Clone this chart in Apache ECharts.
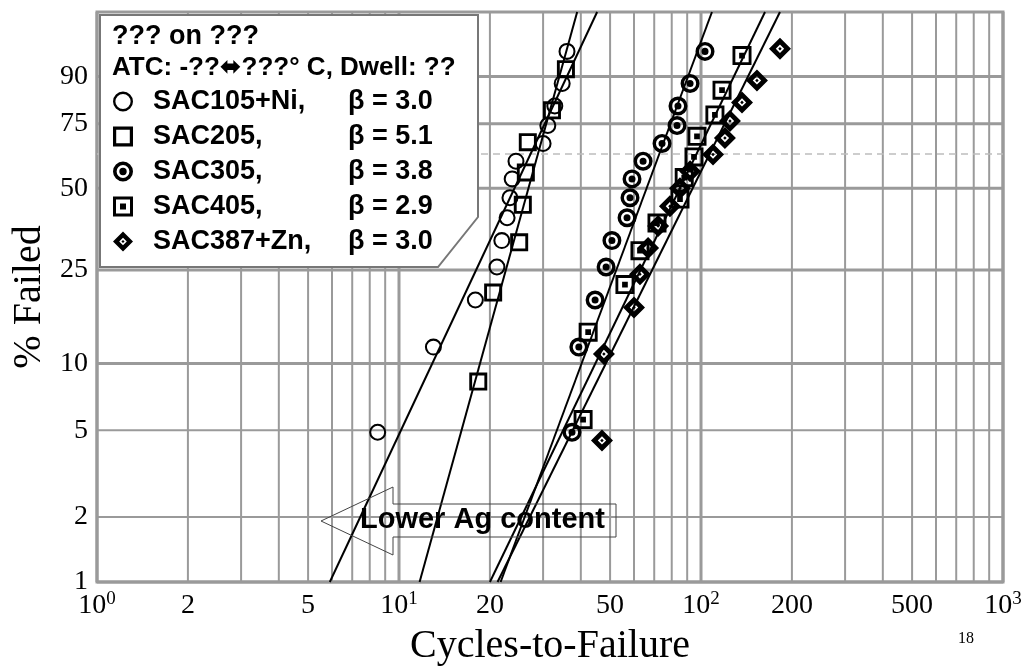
<!DOCTYPE html>
<html>
<head>
<meta charset="utf-8">
<script src="https://cdn.jsdelivr.net/npm/echarts@6/dist/echarts.min.js"></script>
<style>
  html, body { margin: 0; padding: 0; background: #fff; }
  #chart { width: 1026px; height: 671px; }
</style>
</head>
<body>
<div id="chart"></div>
<script>
// tick labels
const xTicks = [1, 2, 5, 10, 20, 50, 100, 200, 500, 1000]
const yTicks = [1, 2, 5, 10, 25, 50, 75, 90]

const names = ['SAC105+Ni', 'SAC205', 'SAC305', 'SAC405', 'SAC387+Zn']
const betas = ['3.0', '5.1', '3.8', '2.9', '3.0']

// cycles-to-failure / % failed
const sac105Cycles = [8.5, 13.0, 17.9, 21.1, 21.9, 22.8, 23.3, 23.7, 24.4, 30.0, 31.1, 32.8, 34.7, 36.0]
const sac105Pct = [4.9, 11.8, 18.8, 25.7, 32.6, 39.6, 46.5, 53.5, 60.4, 67.4, 74.3, 81.3, 88.2, 95.1]

const sac205Cycles = [18.3, 20.5, 25.0, 25.7, 26.3, 26.7, 32.1, 35.7]
const sac205Pct = [8.3, 20.2, 32.1, 44.0, 56.0, 67.9, 79.8, 91.7]

const sac305Cycles = [37.4, 39.4, 44.6, 48.5, 50.7, 56.9, 58.2, 59.1, 64.3, 74.3, 83.3, 83.9, 92.0, 103.1]
const sac305Pct = [4.9, 11.8, 18.8, 25.7, 32.6, 39.6, 46.5, 53.5, 60.4, 67.4, 74.3, 81.3, 88.2, 95.1]

const sac405Cycles = [40.7, 42.3, 56.0, 62.8, 71.5, 85.2, 88.0, 94.8, 97.0, 111.2, 117.4, 136.7]
const sac405Pct = [5.6, 13.7, 21.8, 29.8, 37.9, 46.0, 54.0, 62.1, 70.2, 78.2, 86.3, 94.4]

const sac387Cycles = [47.0, 47.7, 60.0, 62.8, 66.8, 72.1, 78.9, 85.2, 92.0, 109.6, 120.0, 124.7, 136.7, 153.2, 182.6]
const sac387Pct = [4.5, 11.0, 17.5, 24.0, 30.5, 37.0, 43.5, 50.0, 56.5, 63.0, 69.5, 76.0, 82.5, 89.0, 95.5]

// fitted Weibull lines: cycles where each line crosses 1% and 99%
const sac105Fit = [[5.9, 1], [45.3, 99]]
const sac205Fit = [[11.7, 1], [38.9, 99]]
const sac305Fit = [[21.7, 1], [108.7, 99]]
const sac405Fit = [[20.0, 1], [162.9, 99]]
const sac387Fit = [[21.2, 1], [182.6, 99]]

const lg = v => Math.log10(v)
const wb = p => Math.log(-Math.log(1 - p / 100))

const serif = '"Liberation Serif", "Times New Roman", serif'
const sans = '"Liberation Sans", Arial, "DejaVu Sans", sans-serif'

const pts = (c, p) => c.map((v, i) => [lg(v), wb(p[i])])
const fit = f => f.map(d => [lg(d[0]), wb(d[1])])

// marker shapes
const symRing = 'path://M0 10A10 10 0 1 1 20 10A10 10 0 1 1 0 10ZM2.4 10A7.6 7.6 0 1 0 17.6 10A7.6 7.6 0 1 0 2.4 10Z'
const symBox = 'path://M0 0H20V20H0ZM3.2 3.2V16.8H16.8V3.2Z'
const symGear = 'path://M0 10A10 10 0 1 1 20 10A10 10 0 1 1 0 10ZM3.6 10A6.4 6.4 0 1 0 16.4 10A6.4 6.4 0 1 0 3.6 10ZM6.3 10A3.7 3.7 0 1 1 13.7 10A3.7 3.7 0 1 1 6.3 10Z'
const symBoxDot = 'path://M0 0H20V20H0ZM3 3V17H17V3ZM7 7H13V13H7Z'
const symDiamond = 'path://M10 0L20 10L10 20L0 10ZM10 6.2L6.2 10L10 13.8L13.8 10ZM10 8.4L11.6 10L10 11.6L8.4 10Z'

const xGrid = []
for (const d of [1, 10, 100]) for (let k = 1; k < 10; k++) xGrid.push(k * d)
xGrid.push(1000)

const chart = echarts.init(document.getElementById('chart'))

function gridSeries(vals, vertical) {
  return {
    type: 'custom',
    silent: true,
    z: 1,
    data: vals.map(v => vertical ? [lg(v), 0] : [0, wb(v)]),
    renderItem(params, api) {
      const cs = params.coordSys
      const raw = vals[params.dataIndex]
      if (vertical) {
        const x = api.coord([api.value(0), 0])[0]
        const major = [1, 10, 100, 1000].includes(raw)
        return {
          type: 'line',
          shape: { x1: x, y1: cs.y, x2: x, y2: cs.y + cs.height },
          style: { stroke: '#9a9a9a', lineWidth: major ? 3 : 2 }
        }
      }
      const y = api.coord([0, api.value(1)])[1]
      return {
        type: 'line',
        shape: { x1: cs.x, y1: y, x2: cs.x + cs.width, y2: y },
        style: { stroke: '#9a9a9a', lineWidth: (raw === 2 || raw === 5) ? 2 : 3 }
      }
    }
  }
}

function scatter(name, data, symbol, size) {
  return {
    name: name,
    type: 'scatter',
    z: 5,
    data: data,
    symbol: symbol,
    symbolSize: size,
    itemStyle: { color: '#000', borderWidth: 0, opacity: 1 }
  }
}

function fitLine(name, data) {
  return {
    name: name + ' fit',
    type: 'line',
    z: 3,
    data: data,
    symbol: 'none',
    lineStyle: { color: '#000', width: 2 }
  }
}

chart.setOption({
  animation: false,
  backgroundColor: '#fff',
  grid: {
    left: 97, top: 12, width: 906, height: 570,
    show: true, borderColor: '#9a9a9a', borderWidth: 3, backgroundColor: '#fff'
  },
  xAxis: {
    type: 'value',
    min: 0, max: 3,
    name: 'Cycles-to-Failure',
    nameLocation: 'middle',
    nameGap: 44,
    nameTextStyle: { fontFamily: serif, fontSize: 40, color: '#000' },
    axisLine: { show: false },
    axisTick: { show: false },
    splitLine: { show: false },
    axisLabel: {
      customValues: xTicks.map(lg),
      margin: 8,
      color: '#000',
      fontFamily: serif,
      fontSize: 28,
      formatter(v) {
        const t = xTicks.find(k => Math.abs(lg(k) - v) < 1e-6)
        const e = Math.round(lg(t))
        if (Math.abs(lg(t) - e) < 1e-9) return '{b|10}{s|' + e + '}'
        return '{b|' + t + '}'
      },
      rich: {
        b: { fontFamily: serif, fontSize: 28, lineHeight: 32, color: '#000' },
        s: { fontFamily: serif, fontSize: 19, lineHeight: 19, verticalAlign: 'top', color: '#000' }
      }
    }
  },
  yAxis: {
    type: 'value',
    min: wb(1), max: wb(99),
    name: '% Failed',
    nameLocation: 'middle',
    nameGap: 42,
    nameRotate: 90,
    nameTextStyle: { fontFamily: serif, fontSize: 40, color: '#000' },
    axisLine: { show: false },
    axisTick: { show: false },
    splitLine: { show: false },
    axisLabel: {
      customValues: yTicks.map(wb),
      margin: 9,
      color: '#000',
      fontFamily: serif,
      fontSize: 28,
      formatter(v) {
        return String(yTicks.find(k => Math.abs(wb(k) - v) < 1e-6))
      }
    }
  },
  legend: {
    data: names,
    orient: 'vertical',
    left: 108,
    top: 83,
    z: 30,
    itemWidth: 20,
    itemHeight: 20,
    itemGap: 8,
    selectedMode: false,
    formatter(n) {
      return '{n|' + n + ',}{b|β = ' + betas[names.indexOf(n)] + '}'
    },
    textStyle: {
      rich: {
        n: { fontFamily: sans, fontWeight: 'bold', fontSize: 27, width: 195, padding: [0, 0, 0, 15], color: '#000' },
        b: { fontFamily: sans, fontWeight: 'bold', fontSize: 27, color: '#000' }
      }
    }
  },
  graphic: [
    {
      type: 'polygon',
      z: 20,
      silent: true,
      shape: { points: [[100, 15], [478, 15], [478, 217], [438, 267], [100, 267]] },
      style: { fill: '#fff', stroke: '#777', lineWidth: 2 }
    },
    {
      type: 'text', z: 31, left: 112, top: 23,
      style: { text: '??? on ???', font: 'bold 27px ' + sans, fill: '#000' }
    },
    {
      type: 'text', z: 31, left: 112, top: 55,
      style: { text: 'ATC: -??\u2B0C???° C, Dwell: ??', font: 'bold 26px ' + sans, fill: '#000' }
    },
    {
      type: 'polygon',
      z: 20,
      silent: true,
      shape: { points: [[321, 521], [393, 487], [393, 504], [616, 504], [616, 537], [393, 537], [393, 555]] },
      style: { fill: 'none', stroke: '#444', lineWidth: 1 }
    },
    {
      type: 'text', z: 21, left: 360, top: 505,
      style: { text: 'Lower Ag content', font: 'bold 29px ' + sans, fill: '#000' }
    },
    {
      type: 'text', z: 21, left: 958, top: 631,
      style: { text: '18', font: '16px ' + serif, fill: '#000' }
    }
  ],
  series: [
    gridSeries(xGrid, true),
    gridSeries(yTicks, false),
    {
      type: 'line',
      z: 2,
      silent: true,
      symbol: 'none',
      data: [[0, wb(63.2)], [3, wb(63.2)]],
      lineStyle: { color: '#bdbdbd', width: 1.5, type: [7, 5] }
    },
    fitLine('SAC105+Ni', fit(sac105Fit)),
    fitLine('SAC205', fit(sac205Fit)),
    fitLine('SAC305', fit(sac305Fit)),
    fitLine('SAC405', fit(sac405Fit)),
    fitLine('SAC387+Zn', fit(sac387Fit)),
    scatter('SAC105+Ni', pts(sac105Cycles, sac105Pct), symRing, 17),
    scatter('SAC205', pts(sac205Cycles, sac205Pct), symBox, 18),
    scatter('SAC305', pts(sac305Cycles, sac305Pct), symGear, 19),
    scatter('SAC405', pts(sac405Cycles, sac405Pct), symBoxDot, 19),
    scatter('SAC387+Zn', pts(sac387Cycles, sac387Pct), symDiamond, 22)
  ]
})
</script>
</body>
</html>
